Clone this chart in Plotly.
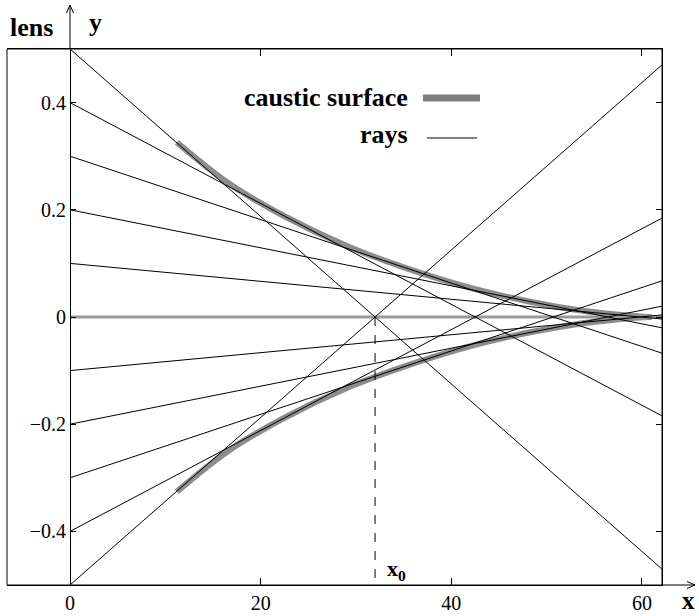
import plotly.graph_objects as go

# ---- data ----
lens_heights = [0.5, 0.4, 0.3, 0.2, 0.1, -0.1, -0.2, -0.3, -0.4, -0.5]
axis_crossings = [32.0, 42.5, 50.7, 56.4, 59.8, 59.8, 56.4, 50.7, 42.5, 32.0]
caustic_x = [11.2, 16.6, 22.6, 29.1, 35.8, 42.3, 48.4, 53.6, 57.6, 60.1, 61.0]
caustic_y_upper = [0.326, 0.250, 0.187, 0.132, 0.088, 0.053, 0.028, 0.012, 0.004, 0.0005, 0.0]
focus_x0 = 32.0
x_ticks = [0, 20, 40, 60]
y_ticks = [-0.4, -0.2, 0, 0.2, 0.4]
y_ticktext = ["\u22120.4", "\u22120.2", "0", "0.2", "0.4"]

x_min, x_max = -6.61, 62.1
y_min, y_max = -0.5, 0.5

FONT = "Liberation Serif"
GRAY = "#8c8c8c"

fig = go.Figure()

# caustic surface (upper and lower branches)
fig.add_trace(go.Scatter(x=caustic_x, y=caustic_y_upper, mode="lines",
                         line=dict(color=GRAY, width=6, shape="spline"), hoverinfo="skip"))
fig.add_trace(go.Scatter(x=caustic_x, y=[-v for v in caustic_y_upper], mode="lines",
                         line=dict(color=GRAY, width=6, shape="spline"), hoverinfo="skip"))

# axial ray
fig.add_trace(go.Scatter(x=[0, x_max], y=[0, 0], mode="lines",
                         line=dict(color="#9a9a9a", width=3), hoverinfo="skip"))

# rays from the lens
for h, f in zip(lens_heights, axis_crossings):
    y_end = h * (1 - x_max / f)
    fig.add_trace(go.Scatter(x=[0, x_max], y=[h, y_end], mode="lines",
                             line=dict(color="black", width=1), hoverinfo="skip"))

# dashed focus line
fig.add_trace(go.Scatter(x=[focus_x0, focus_x0], y=[0, y_min], mode="lines",
                         line=dict(color="black", width=1, dash="dash"), hoverinfo="skip"))

pos0 = (0 - x_min) / (x_max - x_min)

fig.update_layout(
    width=699, height=616,
    margin=dict(l=7, r=37, t=49, b=31, autoexpand=False),
    paper_bgcolor="white", plot_bgcolor="white",
    showlegend=False,
    font=dict(family=FONT, size=20, color="black"),
    xaxis=dict(range=[x_min, x_max], tickvals=x_ticks, ticks="inside", ticklen=7,
               tickcolor="black", showline=True, linecolor="black", linewidth=1,
               mirror="ticks", showgrid=False, zeroline=False, automargin=False,
               tickfont=dict(family=FONT, size=20, color="black")),
    yaxis=dict(range=[y_min, y_max], anchor="free", position=pos0,
               tickvals=y_ticks, ticktext=y_ticktext, ticks="inside", ticklen=5,
               tickcolor="black", showline=True, linecolor="black", linewidth=1,
               showgrid=False, zeroline=False, automargin=False,
               tickfont=dict(family=FONT, size=20, color="black")),
    yaxis2=dict(range=[y_min, y_max], overlaying="y", side="right", anchor="x",
                tickvals=y_ticks, ticks="inside", ticklen=6, tickcolor="black",
                showticklabels=False, showline=True, linecolor="black",
                showgrid=False, zeroline=False, automargin=False),
)
# dummy trace to activate yaxis2
fig.add_trace(go.Scatter(x=[None], y=[None], yaxis="y2", hoverinfo="skip"))

top_y = 1.082
arrow_x = 1.0504
shapes = [
    # frame
    dict(type="rect", xref="paper", yref="paper", x0=0, x1=1, y0=0, y1=1,
         line=dict(color="black", width=1)),
    # y axis extension above the frame
    dict(type="line", xref="paper", yref="paper", x0=pos0, x1=pos0, y0=1, y1=top_y,
         line=dict(color="black", width=1)),
    # x axis extension beyond the frame
    dict(type="line", xref="paper", yref="paper", x0=1, x1=arrow_x, y0=0, y1=0,
         line=dict(color="black", width=1)),
    # arrowheads
    dict(type="path", xref="paper", yref="paper", xsizemode="pixel", ysizemode="pixel",
         xanchor=pos0, yanchor=top_y, path="M-3.5,-8 L0,0 L3.5,-8",
         line=dict(color="black", width=1)),
    dict(type="path", xref="paper", yref="paper", xsizemode="pixel", ysizemode="pixel",
         xanchor=arrow_x, yanchor=0, path="M-8,3.5 L0,0 L-8,-3.5",
         line=dict(color="black", width=1)),
    # legend swatches
    dict(type="line", xref="paper", yref="paper", x0=0.635, x1=0.7221, y0=0.9086, y1=0.9086,
         line=dict(color="#7f7f7f", width=7)),
    dict(type="line", xref="paper", yref="paper", x0=0.6412, x1=0.7176, y0=0.834, y1=0.834,
         line=dict(color="black", width=1)),
]
fig.update_layout(shapes=shapes)

ann = [
    dict(x=0.0015, y=1.041, xref="paper", yref="paper", text="<b>lens</b>", showarrow=False,
         xanchor="left", yanchor="middle", font=dict(family=FONT, size=26)),
    dict(x=0.1344, y=1.050, xref="paper", yref="paper", text="<b>y</b>", showarrow=False,
         xanchor="center", yanchor="middle", font=dict(family=FONT, size=26)),
    dict(x=1.041, y=-0.028, xref="paper", yref="paper", text="<b>x</b>", showarrow=False,
         xanchor="center", yanchor="middle", font=dict(family=FONT, size=25)),
    dict(x=33.0, y=-0.472, xref="x", yref="y", text="<b>x<sub>0</sub></b>", showarrow=False,
         xanchor="left", yanchor="middle", font=dict(family=FONT, size=22)),
    dict(x=0.6153, y=0.910, xref="paper", yref="paper", text="<b>caustic surface</b>",
         showarrow=False, xanchor="right", yanchor="middle", font=dict(family=FONT, size=26)),
    dict(x=0.6153, y=0.8396, xref="paper", yref="paper", text="<b>rays</b>",
         showarrow=False, xanchor="right", yanchor="middle", font=dict(family=FONT, size=26)),
]
fig.update_layout(annotations=ann)

fig.write_html("out.html", config={"displayModeBar": False},
               post_script="document.body.style.margin='0px';")
